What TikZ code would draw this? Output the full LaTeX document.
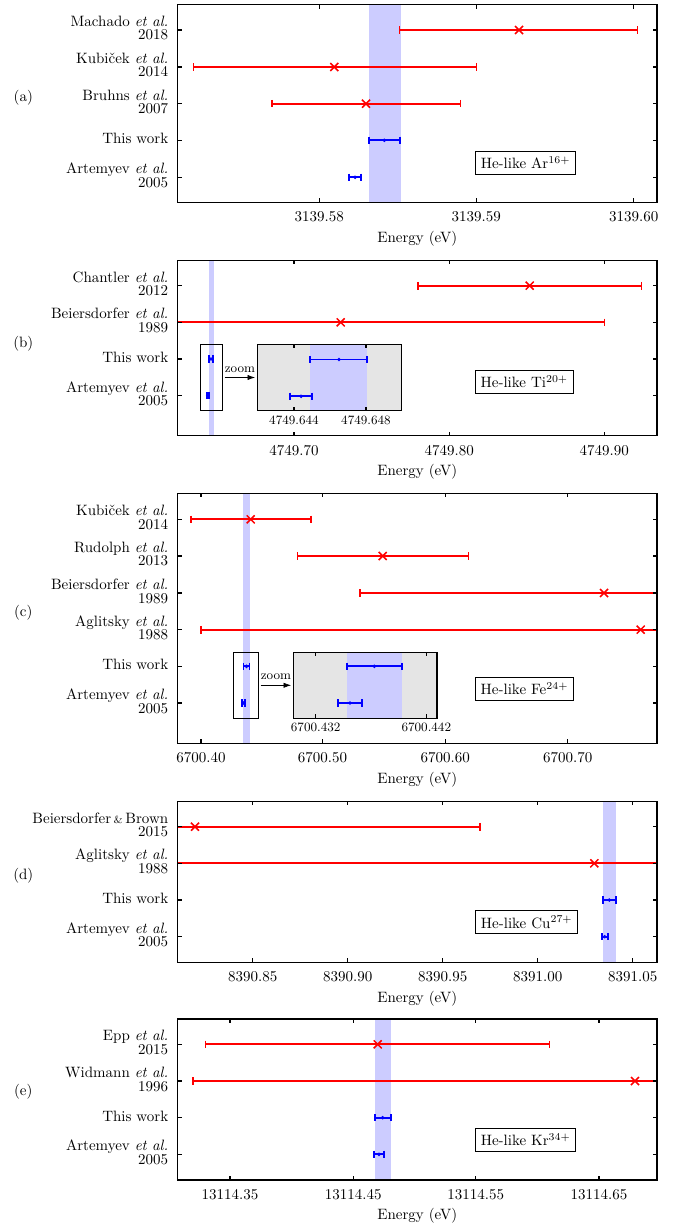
\documentclass[tikz,border=0pt]{standalone}
\usepackage{amsmath}
\usepackage{tikz}
\usetikzlibrary{arrows.meta,fit}

\tikzset{
  axisframe/.style={line width=1pt},
  tickmark/.style={line width=0.7pt},
  redbar/.style={red, line width=1.2pt},
  bluebar/.style={blue, line width=1.1pt},
  refband/.style={fill=blue!20},
  insetbox/.style={draw, line width=1pt, inner sep=0pt},
  zoombox/.style={draw, line width=0.7pt, inner sep=0pt},
  ionlabel/.style={draw, line width=0.7pt, inner sep=3.5pt},
  reflabel/.style={anchor=east, align=right, inner sep=0pt, yshift=1.2pt},
  smalltext/.style={font=\fontsize{8.5}{10}\selectfont},
}

% marks
\newcommand{\xmark}[2]{\draw[redbar, line width=1pt] (#1,#2) ++(-4,-4) -- ++(8,8) ++(0,-8) -- ++(-8,8);}
\newcommand{\rcap}[2]{\draw[redbar, line width=1pt] (#1,#2) ++(0,-3.8) -- ++(0,7.6);}
\newcommand{\bcap}[2]{\draw[bluebar, line width=1.2pt] (#1,#2) ++(0,-3.6) -- ++(0,7.2);}
\newcommand{\redmeas}[4]{\draw[redbar] (#2,#1) -- (#4,#1); \rcap{#2}{#1}\rcap{#4}{#1}\xmark{#3}{#1}}
\newcommand{\bluemeas}[4]{\draw[bluebar] (#2,#1) -- (#4,#1); \bcap{#2}{#1}\bcap{#4}{#1}
  \fill[blue] (#3,#1) circle[radius=1.3pt];}

\begin{document}
\begin{tikzpicture}[x=0.6667pt, y=-0.6667pt]
\useasboundingbox (0,0) rectangle (679,1226);

% ---------------- (a) Ar
\fill[refband] (369.3,4.7) rectangle (400.7,202.3);
\redmeas{30}{399.3}{519}{637.7}
\redmeas{67}{193.3}{334.3}{476.3}
\redmeas{103.7}{272}{366}{460.7}
\bluemeas{140.3}{369.3}{384.3}{400}
\bluemeas{177.3}{349}{355}{361.3}
\draw[axisframe] (177.7,4.7) rectangle (657,202.3);
\foreach \x in {319.3,476.3,633.7}
  \draw[tickmark] (\x,4.7) -- ++(0,4) (\x,202.3) -- ++(0,-4);
\foreach \y in {30,67,103.7,140.3,177.3}
  \draw[tickmark] (177.7,\y) -- ++(4,0) (657,\y) -- ++(-4,0);
\foreach \x/\t [count=\i] in {319.3/3139.58,476.3/3139.59,633.7/3139.60}
  \node (xa\i) at (\x,216.7) {\t};
\node (ea) at (417.3,238.3) {Energy (eV)};
\foreach \y/\t [count=\i] in {30/{Machado \textit{et al.}\\[-3pt]2018},
    67/{Kubi\v{c}ek \textit{et al.}\\[-3pt]2014},
    103.7/{Bruhns \textit{et al.}\\[-3pt]2007},
    140.3/{This work},
    177.3/{Artemyev \textit{et al.}\\[-3pt]2005}}
  \node[reflabel] (ra\i) at (168.5,\y) {\t};
\node (pa) at (23.3,97.7) {(a)};
\node[ionlabel] (ia) at (525.5,162.9) {He-like Ar$^{16+}$};

% ---------------- (b) Ti
\fill[refband] (209,260.3) rectangle (213.7,435.7);
\redmeas{285.7}{418}{529.7}{641.7}
\draw[redbar] (177.7,322.3) -- (604.3,322.3);
\rcap{604.3}{322.3}\xmark{340.7}{322.3}
\bluemeas{359}{208.8}{211}{213.2}
\bluemeas{395.7}{207}{207.8}{208.6}
\node[zoombox, fit={(200.7,344.3) (222.7,410.7)}] (zsb) {};
\fill[black!10] (257.3,344.3) rectangle (401.3,410.7);
\fill[refband] (310,344.3) rectangle (366.7,410.7);
\bluemeas{359.5}{310.3}{339}{367}
\bluemeas{396.3}{290}{301}{312}
\node[insetbox, fit={(257.3,344.3) (401.3,410.7)}] (zib) {};
\foreach \x in {294,366}
  \draw[tickmark] (\x,344.3) -- ++(0,4) (\x,410.7) -- ++(0,-4);
\foreach \x/\t [count=\i] in {294/4749.644,366/4749.648}
  \node[smalltext] (zxb\i) at (\x,420.5) {\t};
\draw[-{Latex[length=5pt,width=3.5pt]}, shorten <=1pt, shorten >=1pt]
  (zsb) -- node[smalltext, above=0pt] {zoom} (zib);
\draw[axisframe] (177.7,260.3) rectangle (657,435.7);
\foreach \x in {294,449.3,604.3}
  \draw[tickmark] (\x,260.3) -- ++(0,4) (\x,435.7) -- ++(0,-4);
\foreach \y in {285.7,322.3,359,395.7}
  \draw[tickmark] (177.7,\y) -- ++(4,0) (657,\y) -- ++(-4,0);
\foreach \x/\t [count=\i] in {294/4749.70,449.3/4749.80,604.3/4749.90}
  \node (xb\i) at (\x,450.1) {\t};
\node (eb) at (417.3,471.7) {Energy (eV)};
\foreach \y/\t [count=\i] in {285.7/{Chantler \textit{et al.}\\[-3pt]2012},
    322.3/{Beiersdorfer \textit{et al.}\\[-3pt]1989},
    359/{This work},
    395.7/{Artemyev \textit{et al.}\\[-3pt]2005}}
  \node[reflabel] (rb\i) at (168.5,\y) {\t};
\node (pb) at (23.3,344) {(b)};
\node[ionlabel] (ib) at (524.3,381.7) {He-like Ti$^{20+}$};

% ---------------- (c) Fe
\fill[refband] (243.3,493.3) rectangle (250,743.3);
\redmeas{519.3}{191}{250.7}{311}
\redmeas{556}{297.3}{382.7}{468.7}
\draw[redbar] (360,593) -- (657,593);
\rcap{360}{593}\xmark{604}{593}
\draw[redbar] (201,629.7) -- (657,629.7);
\rcap{201}{629.7}\xmark{640.7}{629.7}
\bluemeas{666.3}{243.5}{246.5}{249.5}
\bluemeas{703}{242.3}{243.5}{244.7}
\node[zoombox, fit={(233.3,652.3) (258.7,718.3)}] (zsc) {};
\fill[black!10] (293.3,652.3) rectangle (437,718.3);
\fill[refband] (347,652.3) rectangle (402,718.3);
\bluemeas{666.3}{347}{374.3}{402}
\bluemeas{703}{337.7}{350}{362.3}
\node[insetbox, fit={(293.3,652.3) (437,718.3)}] (zic) {};
\foreach \x in {315.7,426.3}
  \draw[tickmark] (\x,652.3) -- ++(0,4) (\x,718.3) -- ++(0,-4);
\foreach \x/\t [count=\i] in {315.7/6700.432,426.3/6700.442}
  \node[smalltext] (zxc\i) at (\x,727.5) {\t};
\draw[-{Latex[length=5pt,width=3.5pt]}, shorten <=1pt, shorten >=1pt]
  (zsc) -- node[smalltext, above=0pt] {zoom} (zic);
\draw[axisframe] (177.7,493.3) rectangle (657,743.3);
\foreach \x in {201,322.5,445.3,567.7}
  \draw[tickmark] (\x,493.3) -- ++(0,4) (\x,743.3) -- ++(0,-4);
\foreach \y in {519.3,556,593,629.7,666.3,703}
  \draw[tickmark] (177.7,\y) -- ++(4,0) (657,\y) -- ++(-4,0);
\foreach \x/\t [count=\i] in {201/6700.40,322.5/6700.50,445.3/6700.60,567.7/6700.70}
  \node (xc\i) at (\x,757.7) {\t};
\node (ec) at (417.3,779.3) {Energy (eV)};
\foreach \y/\t [count=\i] in {519.3/{Kubi\v{c}ek \textit{et al.}\\[-3pt]2014},
    556/{Rudolph \textit{et al.}\\[-3pt]2013},
    593/{Beiersdorfer \textit{et al.}\\[-3pt]1989},
    629.7/{Aglitsky \textit{et al.}\\[-3pt]1988},
    666.3/{This work},
    703/{Artemyev \textit{et al.}\\[-3pt]2005}}
  \node[reflabel] (rc\i) at (168.5,\y) {\t};
\node (pc) at (23.3,612.3) {(c)};
\node[ionlabel] (ic) at (524.5,688.7) {He-like Fe$^{24+}$};

% ---------------- (d) Cu
\fill[refband] (603.3,801.3) rectangle (616,962.3);
\draw[redbar] (177.7,826.7) -- (480,826.7);
\rcap{480}{826.7}\xmark{195}{826.7}
\draw[redbar] (177.7,863.3) -- (657,863.3);
\xmark{594.3}{863.3}
\bluemeas{900}{602.7}{609.3}{615.7}
\bluemeas{936.7}{602}{604.7}{607.7}
\draw[axisframe] (177.7,801.3) rectangle (657,962.3);
\foreach \x in {252.7,347.7,442.7,537.7,632.7}
  \draw[tickmark] (\x,801.3) -- ++(0,4) (\x,962.3) -- ++(0,-4);
\foreach \y in {826.7,863.3,900,936.7}
  \draw[tickmark] (177.7,\y) -- ++(4,0) (657,\y) -- ++(-4,0);
\foreach \x/\t [count=\i] in {252.7/8390.85,347.7/8390.90,442.7/8390.95,537.7/8391.00,632.7/8391.05}
  \node (xd\i) at (\x,976.7) {\t};
\node (ed) at (417.3,998.3) {Energy (eV)};
\foreach \y/\t [count=\i] in {826.7/{Beiersdorfer\,{\scriptsize\&}\,Brown\\[-3pt]2015},
    863.3/{Aglitsky \textit{et al.}\\[-3pt]1988},
    900/{This work},
    936.7/{Artemyev \textit{et al.}\\[-3pt]2005}}
  \node[reflabel] (rd\i) at (168.5,\y) {\t};
\node (pd) at (23.3,875.7) {(d)};
\node[ionlabel] (id) at (526.7,922.2) {He-like Cu$^{27+}$};

% ---------------- (e) Kr
\fill[refband] (375.3,1019) rectangle (390.7,1180);
\redmeas{1044.3}{205.7}{377.7}{549.7}
\draw[redbar] (193,1081) -- (657,1081);
\rcap{193}{1081}\xmark{635}{1081}
\bluemeas{1117.7}{375.3}{382.7}{391}
\bluemeas{1154.3}{374}{379}{384}
\draw[axisframe] (177.7,1019) rectangle (657,1180);
\foreach \x in {230,353.3,475.7,599}
  \draw[tickmark] (\x,1019) -- ++(0,4) (\x,1180) -- ++(0,-4);
\foreach \y in {1044.3,1081,1117.7,1154.3}
  \draw[tickmark] (177.7,\y) -- ++(4,0) (657,\y) -- ++(-4,0);
\foreach \x/\t [count=\i] in {230/13114.35,353.3/13114.45,475.7/13114.55,599/13114.65}
  \node (xe\i) at (\x,1194.4) {\t};
\node (ee) at (417.3,1215.5) {Energy (eV)};
\foreach \y/\t [count=\i] in {1044.3/{Epp \textit{et al.}\\[-3pt]2015},
    1081/{Widmann \textit{et al.}\\[-3pt]1996},
    1117.7/{This work},
    1154.3/{Artemyev \textit{et al.}\\[-3pt]2005}}
  \node[reflabel] (re\i) at (168.5,\y) {\t};
\node (pe) at (23.3,1091.7) {(e)};
\node[ionlabel] (ie) at (525.7,1139.8) {He-like Kr$^{34+}$};
\end{tikzpicture}
\end{document}
